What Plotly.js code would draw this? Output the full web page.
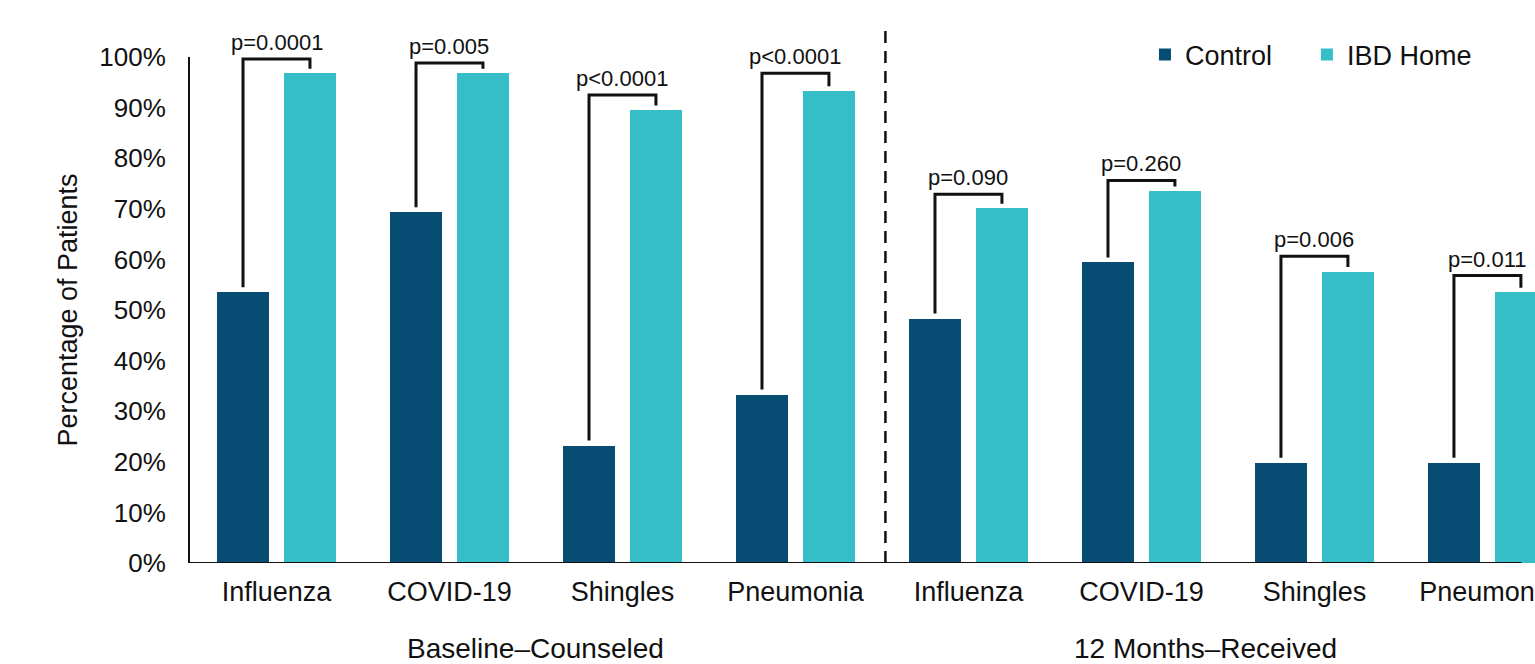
<!DOCTYPE html>
<html>
<head>
<meta charset="utf-8">
<script src="https://cdn.plot.ly/plotly-3.0.1.min.js"></script>
<style>html,body{margin:0;padding:0;background:#fff;}#chart{width:1535px;height:664px;}</style>
</head>
<body>
<div id="chart"></div>
<script>
// ---- data ----
const vaccines = ['Influenza', 'COVID-19', 'Shingles', 'Pneumonia'];
const periods = ['Baseline–Counseled', '12 Months–Received'];
const seriesNames = ['Control', 'IBD Home'];
const controlPct = [53.5, 69.3, 23.2, 33.3, 48.3, 59.4, 19.8, 19.8];
const ibdHomePct = [96.8, 96.8, 89.5, 93.3, 70.1, 73.5, 57.6, 53.5];
const pLabels = ['p=0.0001', 'p=0.005', 'p<0.0001', 'p<0.0001', 'p=0.090', 'p=0.260', 'p=0.006', 'p=0.011'];
const bracketLevel = [99.6, 98.8, 92.5, 96.8, 72.9, 75.6, 60.6, 56.8];
const yTicks = [0, 10, 20, 30, 40, 50, 60, 70, 80, 90, 100];
const yTickLabels = yTicks.map(v => v + '%');

// ---- styling constants ----
const FONT = 'Liberation Sans, Arial, sans-serif';
const TXT = '#111111';
const C_CONTROL = '#074C72';
const C_IBD = '#35BEC7';
const BAR_W = 0.301;
const CTRL_OFF = -0.344;
const IBD_OFF = 0.043;
const CTRL_C = CTRL_OFF + BAR_W / 2;
const IBD_C = IBD_OFF + BAR_W / 2;
const GAP_LOW = 1.0, GAP_HIGH = 0.9;

const tickText = periods.flatMap(() => vaccines);
const xIdx = tickText.map((_, i) => i);

const traces = [
  {
    type: 'bar', name: seriesNames[0], x: xIdx, y: controlPct,
    width: BAR_W, offset: CTRL_OFF, marker: {color: C_CONTROL},
    hoverinfo: 'y+name', legend: 'legend'
  },
  {
    type: 'bar', name: seriesNames[1], x: xIdx, y: ibdHomePct,
    width: BAR_W, offset: IBD_OFF, marker: {color: C_IBD},
    hoverinfo: 'y+name', legend: 'legend2'
  }
];

// significance brackets
xIdx.forEach(i => {
  traces.push({
    type: 'scatter', mode: 'lines', showlegend: false, hoverinfo: 'skip',
    x: [i + CTRL_C, i + CTRL_C, i + IBD_C, i + IBD_C],
    y: [controlPct[i] + GAP_LOW, bracketLevel[i], bracketLevel[i], ibdHomePct[i] + GAP_HIGH],
    line: {color: TXT, width: 3}, cliponaxis: false
  });
});

const annotations = xIdx.map(i => ({
  x: i, y: bracketLevel[i], xref: 'x', yref: 'y',
  text: pLabels[i], showarrow: false, yanchor: 'bottom', yshift: 2,
  font: {family: FONT, size: 22, color: TXT}
}));
annotations.push(
  {x: 1.5, y: -0.168, xref: 'x', yref: 'paper', text: periods[0], showarrow: false,
   yanchor: 'middle', font: {family: FONT, size: 28, color: TXT}},
  {x: 5.37, y: -0.168, xref: 'x', yref: 'paper', text: periods[1], showarrow: false,
   yanchor: 'middle', font: {family: FONT, size: 28, color: TXT}}
);

const shapes = [
  {type: 'line', xref: 'x', yref: 'paper', x0: 3.52, x1: 3.52, y0: 0, y1: 1.06,
   line: {color: TXT, width: 2.5, dash: '12px,8px'}},
  {type: 'line', xref: 'paper', yref: 'y', x0: 0, x1: 0.990, y0: 0, y1: 0,
   line: {color: TXT, width: 2}}
];

const legendBase = {
  orientation: 'h', xanchor: 'left', y: 1.004, yanchor: 'middle',
  font: {family: FONT, size: 27, color: TXT}, bgcolor: 'rgba(0,0,0,0)'
};

const layout = {
  width: 1535, height: 664,
  margin: {l: 190, r: 0, t: 57, b: 101},
  paper_bgcolor: '#ffffff', plot_bgcolor: '#ffffff',
  font: {family: FONT, color: TXT, size: 27},
  showlegend: true,
  legend: Object.assign({}, legendBase, {x: 0.7100}),
  legend2: Object.assign({}, legendBase, {x: 0.8304}),
  xaxis: {
    type: 'linear', range: [-0.5, 7.275], tickvals: xIdx, ticktext: tickText,
    showgrid: false, zeroline: false, showline: false, ticks: '',
    ticklabelstandoff: 10, ticklabeloverflow: 'allow',
    tickfont: {family: FONT, size: 27, color: TXT}, fixedrange: true
  },
  yaxis: {
    range: [0, 100], tickmode: 'array', tickvals: yTicks, ticktext: yTickLabels,
    showgrid: false, zeroline: false, showline: true, linecolor: TXT, linewidth: 2,
    ticks: '', ticklabelstandoff: 17,
    tickfont: {family: FONT, size: 26, color: TXT},
    title: {text: 'Percentage of Patients', font: {family: FONT, size: 27, color: TXT}, standoff: 14},
    automargin: false, fixedrange: true
  },
  annotations: annotations,
  shapes: shapes,
  bargap: 0, bargroupgap: 0
};

Plotly.newPlot('chart', traces, layout, {displayModeBar: false, staticPlot: true});
</script>
</body>
</html>
